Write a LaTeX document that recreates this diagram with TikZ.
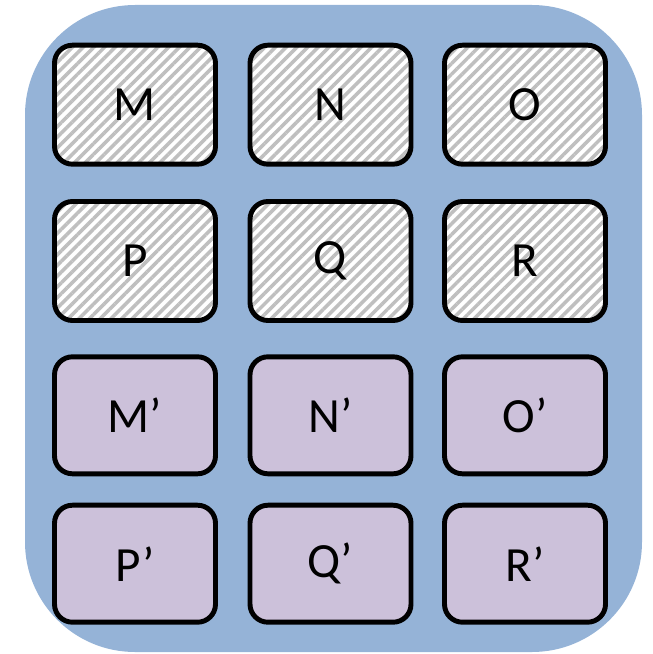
\documentclass[tikz,border=0pt]{standalone}
\usepackage{fontspec}
\setmainfont{Carlito}
\usepackage{tikz}
\usetikzlibrary{patterns.meta}
\usepackage{xcolor}

\definecolor{panelblue}{HTML}{95B3D7}
\definecolor{cellpurple}{HTML}{CCC1DA}
\definecolor{hatchgray}{HTML}{BFBFBF}

\tikzset{
  cell/.style={draw=black, line width=2.8pt, rounded corners=0.36cm,
    minimum width=3.22cm, inner sep=0pt,
    font=\fontsize{28}{34}\selectfont},
  hatchcell/.style={cell, minimum height=2.38cm, preaction={fill=white},
    pattern={Lines[angle=45, distance=4.3pt, line width=2pt]},
    pattern color=hatchgray},
  primecell/.style={cell, minimum height=2.34cm, fill=cellpurple}
}

\begin{document}
\begin{tikzpicture}
  \useasboundingbox (0, 0) rectangle (13.04, -13.08);

  \fill[panelblue, rounded corners=2.2cm] (0.5, -0.1) rectangle (12.84, -13.04);

  % hatched rows
  \node[hatchcell] (M) at (2.70, -2.094) {M};
  \node[hatchcell] (N) at (6.61, -2.094) {N};
  \node[hatchcell] (O) at (10.50, -2.094) {O};

  \node[hatchcell] (P) at (2.70, -5.22) {P};
  \node[hatchcell] (Q) at (6.61, -5.22) {Q};
  \node[hatchcell] (R) at (10.50, -5.22) {R};

  % primed rows
  \node[primecell] (Mp) at (2.70, -8.306) {M’};
  \node[primecell] (Np) at (6.61, -8.306) {N’};
  \node[primecell] (Op) at (10.50, -8.306) {O’};

  \node[primecell] (Pp) at (2.70, -11.274) {P’};
  \node[primecell] (Qp) at (6.61, -11.274) {Q’};
  \node[primecell] (Rp) at (10.50, -11.274) {R’};
\end{tikzpicture}
\end{document}
